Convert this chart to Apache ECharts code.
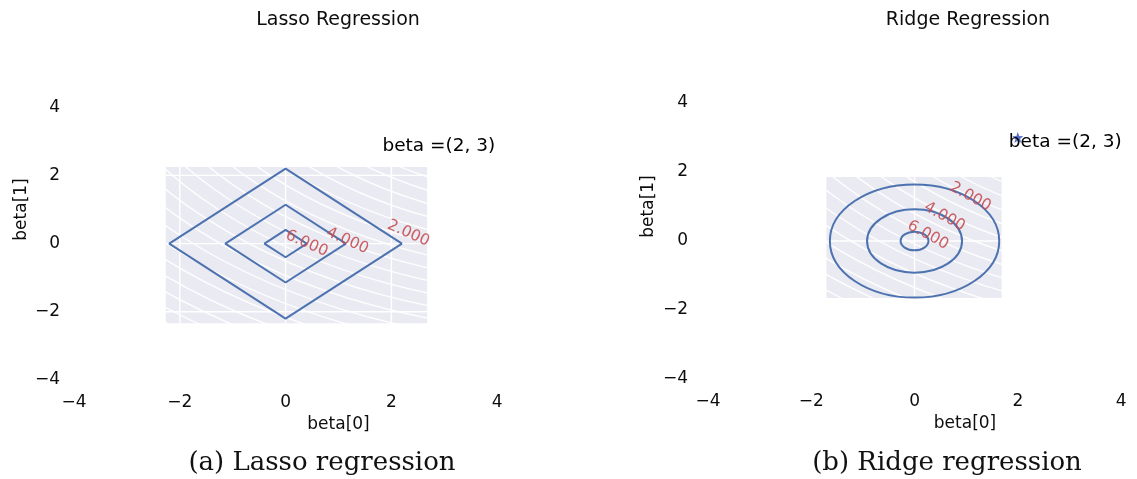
<!DOCTYPE html>
<html>
<head>
<meta charset="utf-8">
<script src="https://cdn.jsdelivr.net/npm/echarts@6/dist/echarts.min.js"></script>
<style>
  html, body { margin: 0; padding: 0; background: #fff; }
  #main { width: 1137px; height: 479px; }
</style>
</head>
<body>
<div id="main"></div>
<script>
// tick values shown on both axes
var tickValues = [-4, -2, 0, 2, 4];

// lasso: diamond contours |b0|+|b1| = r
var lassoRadii = [2.2, 1.14, 0.4];
var lassoLevels = ['2.000', '4.000', '6.000'];
var lassoLabelX = [2.32, 1.17, 0.4];
var lassoLabelY = [0.3, 0.08, 0.0];
var lassoBoxX = [-2.27, 2.68];
var lassoBoxY = [-2.34, 2.25];

// ridge: circle contours b0^2+b1^2 = r^2
var ridgeRadii = [1.64, 0.92, 0.27];
var ridgeLevels = ['2.000', '4.000', '6.000'];
var ridgeLabelX = [1.08, 0.58, 0.26];
var ridgeLabelY = [1.28, 0.7, 0.17];
var ridgeBoxX = [-1.71, 1.69];
var ridgeBoxY = [-1.65, 1.86];

// true beta
var betaPoint = [2, 3];
var betaText = 'beta =(2, 3)';

// faint white loss contours in the shaded area
var lossCenter = [5.8, 8];
var lossRadii = [6.8, 7.15, 7.5, 7.85, 8.2, 8.55, 8.9, 9.25, 9.6, 9.95, 10.3, 10.65, 11.0, 11.35, 11.7, 12.05, 12.4, 12.75, 13.1];

var FONT = 'DejaVu Sans';
var BLUE = '#4c72b0';
var RED = '#c44e52';
var INK = '#0d0d0d';

var chart = echarts.init(document.getElementById('main'));

function minusFmt(v) {
    if (v > 4) return '';
    return v < 0 ? '\u2212' + (-v) : '' + v;
}

function makeX(idx, name, max, shift) {
    return {
        type: 'value', gridIndex: idx, min: -4, max: max, interval: 2,
        axisLine: { show: false }, axisTick: { show: false }, splitLine: { show: false },
        axisLabel: { formatter: minusFmt, color: INK, fontSize: 17, fontFamily: FONT, margin: 14 },
        name: name, nameLocation: 'middle', nameGap: 28,
        nameTextStyle: { color: INK, fontSize: 17, fontFamily: FONT, padding: [0, 0, 0, shift * 2] }
    };
}
function makeY(idx, name, margin, gap) {
    return {
        type: 'value', gridIndex: idx, min: -4, max: 6, interval: 2,
        axisLine: { show: false }, axisTick: { show: false }, splitLine: { show: false },
        axisLabel: { formatter: minusFmt, color: INK, fontSize: 17, fontFamily: FONT, margin: margin },
        name: name, nameLocation: 'middle', nameGap: gap, nameRotate: 90,
        nameTextStyle: { color: INK, fontSize: 17, fontFamily: FONT }
    };
}

// gray seaborn box + white grid + white loss contours
function bgRender(boxX, boxY) {
    return function (params, api) {
        var p0 = api.coord([boxX[0], boxY[1]]);
        var p1 = api.coord([boxX[1], boxY[0]]);
        var rect = { x: p0[0], y: p0[1], width: p1[0] - p0[0], height: p1[1] - p0[1] };
        var children = [{ type: 'rect', shape: rect, style: { fill: '#eaeaf2' } }];
        var c = api.coord(lossCenter);
        lossRadii.forEach(function (r) {
            var s = api.size([r, r]);
            children.push({ type: 'ellipse', shape: { cx: c[0], cy: c[1], rx: s[0], ry: s[1] },
                style: { fill: 'none', stroke: 'rgba(255,255,255,0.95)', lineWidth: 1.4 } });
        });
        tickValues.forEach(function (t) {
            if (t > boxX[0] && t < boxX[1]) {
                var a = api.coord([t, 0]);
                children.push({ type: 'line', shape: { x1: a[0], y1: rect.y, x2: a[0], y2: rect.y + rect.height },
                    style: { stroke: '#fff', lineWidth: 1.4 } });
            }
            if (t > boxY[0] && t < boxY[1]) {
                var b = api.coord([0, t]);
                children.push({ type: 'line', shape: { x1: rect.x, y1: b[1], x2: rect.x + rect.width, y2: b[1] },
                    style: { stroke: '#fff', lineWidth: 1.4 } });
            }
        });
        // cover the part of the loss contours outside the box
        children.push({ type: 'rect', shape: { x: rect.x - 2000, y: rect.y - 2000, width: 2000, height: 5000 }, style: { fill: '#fff' } });
        children.push({ type: 'rect', shape: { x: rect.x + rect.width, y: rect.y - 2000, width: 2000, height: 5000 }, style: { fill: '#fff' } });
        children.push({ type: 'rect', shape: { x: rect.x, y: rect.y - 2000, width: rect.width, height: 2000 }, style: { fill: '#fff' } });
        children.push({ type: 'rect', shape: { x: rect.x, y: rect.y + rect.height, width: rect.width, height: 2000 }, style: { fill: '#fff' } });
        return { type: 'group', children: children };
    };
}

function diamondSeries() {
    return lassoRadii.map(function (r) {
        return {
            type: 'line', xAxisIndex: 0, yAxisIndex: 0, symbol: 'none', z: 3,
            lineStyle: { color: BLUE, width: 2 },
            data: [[r, 0], [0, r], [-r, 0], [0, -r], [r, 0]]
        };
    });
}

function labelData(levels, xs, ys) {
    return levels.map(function (l, i) { return { name: l, value: [xs[i], ys[i]] }; });
}

function labelSeries(idx, levels, xs, ys, rot) {
    return {
        type: 'scatter', xAxisIndex: idx, yAxisIndex: idx, symbolSize: 1, z: 5,
        itemStyle: { color: 'rgba(0,0,0,0)', opacity: 1 },
        label: { show: true, position: 'inside', formatter: '{b}', rotate: rot,
            color: RED, fontSize: 15.5, fontFamily: FONT, opacity: 0.9 },
        data: labelData(levels, xs, ys)
    };
}

var star = 'path://M12 1 L14.8 8.6 L23 8.9 L16.6 14 L18.8 22 L12 17.4 L5.2 22 L7.4 14 L1 8.9 L9.2 8.6 Z';

function betaSeries(idx, showStar) {
    return {
        type: 'scatter', xAxisIndex: idx, yAxisIndex: idx, z: 6,
        symbol: star, symbolSize: showStar ? 11 : 0,
        itemStyle: { color: '#5670cc', opacity: 1 },
        label: { show: true, position: 'inside', align: 'left', offset: [-9, 5], opacity: 1,
            formatter: betaText, color: '#000', fontSize: 18.5, fontFamily: FONT },
        data: [betaPoint]
    };
}

var series = [
    { type: 'custom', xAxisIndex: 0, yAxisIndex: 0, z: 1, clip: true, renderItem: bgRender(lassoBoxX, lassoBoxY), data: [[0, 0]], silent: true },
    { type: 'custom', xAxisIndex: 1, yAxisIndex: 1, z: 1, clip: true, renderItem: bgRender(ridgeBoxX, ridgeBoxY), data: [[0, 0]], silent: true },
    {
        type: 'custom', xAxisIndex: 1, yAxisIndex: 1, z: 3,
        renderItem: function (params, api) {
            var c = api.coord([api.value(0), api.value(1)]);
            var s = api.size([api.value(2), api.value(2)]);
            return { type: 'ellipse', shape: { cx: c[0], cy: c[1], rx: s[0], ry: s[1] },
                style: { fill: 'none', stroke: BLUE, lineWidth: 2 } };
        },
        data: ridgeRadii.map(function (r) { return [0, 0, r]; })
    },
    labelSeries(0, lassoLevels, lassoLabelX, lassoLabelY, -24),
    labelSeries(1, ridgeLevels, ridgeLabelX, ridgeLabelY, -29),
    betaSeries(0, false),
    betaSeries(1, true)
].concat(diamondSeries());

var option = {
    animation: false,
    backgroundColor: '#fff',
    grid: [
        { left: 74, top: 39, width: 529, height: 341 },
        { left: 708, top: 34, width: 429, height: 345 }
    ],
    xAxis: [makeX(0, 'beta[0]', 6, 0), makeX(1, 'beta[0]', 4.25, 44)],
    yAxis: [makeY(0, 'beta[1]', 14, 44), makeY(1, 'beta[1]', 20, 51)],
    graphic: [
        { type: 'text', x: 338, y: 20, style: { text: 'Lasso Regression', font: '19px "DejaVu Sans"', fill: INK, align: 'center', verticalAlign: 'middle' } },
        { type: 'text', x: 968, y: 20, style: { text: 'Ridge Regression', font: '19px "DejaVu Sans"', fill: INK, align: 'center', verticalAlign: 'middle' } },
        { type: 'text', x: 322, y: 463, style: { text: '(a) Lasso regression', font: '26px "DejaVu Serif"', fill: '#111', align: 'center', verticalAlign: 'middle' } },
        { type: 'text', x: 947, y: 463, style: { text: '(b) Ridge regression', font: '26px "DejaVu Serif"', fill: '#111', align: 'center', verticalAlign: 'middle' } }
    ],
    series: series
};

chart.setOption(option);
</script>
</body>
</html>
